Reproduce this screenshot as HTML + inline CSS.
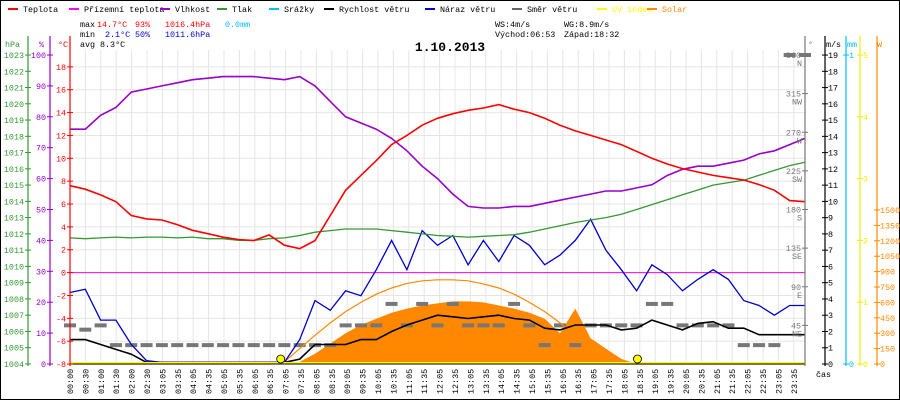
<!DOCTYPE html>
<html><head><meta charset="utf-8"><style>
html,body{margin:0;padding:0;background:#fff}
svg{display:block;font-family:"Liberation Mono","DejaVu Sans Mono",monospace}
</style></head><body>
<svg id="c" width="900" height="400" viewBox="0 0 900 400" xmlns="http://www.w3.org/2000/svg">
<rect x="0.5" y="0.5" width="899" height="399" fill="#fff" stroke="#000"/>
<g id="legend" font-size="8.4"></g>
<g font-size="8.4">
<text x="80" y="27">max</text><text x="97" y="27" fill="#f00">14.7°C</text><text x="135" y="27" fill="#f00">93%</text><text x="165" y="27" fill="#f00">1016.4hPa</text><text x="225" y="27" fill="#00bfff">0.0mm</text>
<text x="80" y="37">min</text><text x="105" y="37" fill="#00c">2.1°C</text><text x="135" y="37" fill="#00c">50%</text><text x="165" y="37" fill="#00c">1011.6hPa</text>
<text x="80" y="47">avg</text><text x="100" y="47">8.3°C</text>
<text x="495" y="27">WS:4m/s</text><text x="564" y="27">WG:8.9m/s</text>
<text x="495" y="37">Východ:06:53</text><text x="564" y="37">Západ:18:32</text>
</g>
<text x="450" y="51" font-size="13" font-weight="bold" text-anchor="middle">1.10.2013</text>
<g id="grid"></g><g id="marks"></g><g id="axes" font-size="8.4"></g>
</svg>
<script>
const hours=[0,0.5,1,1.5,2,2.5,3,3.5,4,4.5,5,5.5,6,6.5,7,7.5,8,8.5,9,9.5,10,10.5,11,11.5,12,12.5,13,13.5,14,14.5,15,15.5,16,16.5,17,17.5,18,18.5,19,19.5,20,20.5,21,21.5,22,22.5,23,23.5,24];
const temperature=[7.6,7.3,6.8,6.2,5.0,4.7,4.6,4.2,3.7,3.4,3.1,2.9,2.8,3.3,2.4,2.1,2.8,5.0,7.2,8.5,9.8,11.2,12.0,12.9,13.5,13.9,14.2,14.4,14.7,14.3,14.0,13.5,12.9,12.4,12.0,11.6,11.2,10.6,10.0,9.5,9.1,8.8,8.5,8.3,8.1,7.7,7.2,6.3,6.2];
const humidity=[76,76,80.5,83,88,89,90,91,92,92.5,93,93,93,92.5,92,93,90,85,80,78,76,73,69,64,60,55,51,50.5,50.5,51,51,52,53,54,55,56,56,57,58,61,63,64,64,65,66,68,69,71,73];
const pressure=[1011.75,1011.7,1011.75,1011.8,1011.75,1011.8,1011.8,1011.75,1011.8,1011.7,1011.7,1011.6,1011.6,1011.7,1011.75,1011.9,1012.1,1012.2,1012.3,1012.3,1012.3,1012.2,1012.1,1012.0,1011.9,1011.85,1011.8,1011.85,1011.9,1011.95,1012.1,1012.3,1012.5,1012.7,1012.85,1013.0,1013.2,1013.5,1013.8,1014.1,1014.4,1014.7,1015.0,1015.15,1015.3,1015.6,1015.9,1016.2,1016.4];
const gust=[4.4,4.6,2.7,2.7,1.2,0.2,0.1,0.1,0.1,0.1,0.1,0.1,0.1,0.1,0.1,1.5,3.9,3.3,4.5,4.2,5.8,7.6,5.8,8.2,7.3,7.9,6.1,7.6,6.3,7.9,7.3,6.1,6.7,7.6,8.9,7.0,5.8,4.5,6.1,5.5,4.5,5.2,5.8,5.2,3.9,3.6,3.0,3.6,3.6];
const speed=[1.5,1.5,1.2,0.9,0.6,0.1,0.1,0.1,0.1,0.1,0.1,0.1,0.1,0.1,0.1,0.3,1.2,1.2,1.2,1.5,1.5,2.0,2.4,2.7,3.0,2.9,2.8,2.9,3.0,2.8,2.7,2.2,2.1,2.4,2.4,2.4,2.1,2.2,2.7,2.4,2.1,2.5,2.6,2.2,2.2,1.8,1.8,1.8,1.8];
const direction=[45,40,45,22,22,22,22,22,22,22,22,22,22,22,22,22,22,22,45,45,45,70,45,70,45,70,45,45,45,70,45,22,45,22,45,45,45,45,70,70,45,45,45,45,22,22,22,360,360];
const solar=[0,0,0,0,0,0,0,0,0,0,0,0,0,0,0,20,100,200,300,380,440,500,540,570,590,610,610,600,570,540,500,440,300,540,250,150,50,0,0,0,0,0,0,0,0,0,0,0,0];
const solarMax=[0,0,0,0,0,0,0,0,0,0,0,0,0,0,20,150,280,400,510,600,680,740,785,810,820,820,810,780,740,680,600,510,400,280,150,40,0,0,0,0,0,0,0,0,0,0,0,0,0];
const timeLabels=["00:00","00:30","01:00","01:30","02:00","02:30"];
for(let h=3;h<24;h++){const s=String(h).padStart(2,'0');timeLabels.push(s+":05",s+":35");}
const sunEvents=[6.88,18.53];

const NS="http://www.w3.org/2000/svg";
function mk(p,t,a){const e=document.createElementNS(NS,t);for(const k in a)e.setAttribute(k,a[k]);p.appendChild(e);return e;}
const X0=70,X1=805,YT=55,YB=364;
const xH=h=>X0+h*(X1-X0)/24;
const yC=c=>272.6-c*11.43;
const yP=p=>YT+(1023-p)*16.26;
const yH=v=>YB-v*3.09;
const yW=v=>YB-v*16.26;
const yD=d=>YB-d*(YB-YT)/360;
const ySol=w=>YB-w*154/1500;
const yUV=u=>YB-u*(YB-YT)/5;
const grid=document.getElementById('grid'),marks=document.getElementById('marks'),axes=document.getElementById('axes');

const leg=[["Teplota","#f00"],["Přízemní teplota","#f0f"],["Vlhkost","#90c"],["Tlak","#393"],["Srážky","#00bfff"],["Rychlost větru","#000"],["Náraz větru","#00c"],["Směr větru","#666"],["UV index","#ff0"],["Solar","#f80"]];
const legX=[8,69,160,217,269,324,425,512,597,647];
const lg=document.getElementById('legend');
leg.forEach((l,i)=>{const g=mk(lg,'g',{});


mk(g,'rect',{x:legX[i],y:8,width:10,height:2,fill:l[1]});
const t=mk(g,'text',{x:legX[i]+15,y:12,fill:(i>=8?l[1]:'#000')});t.textContent=l[0];});

for(let i=0;i<timeLabels.length;i++){const x=X0+i*15.4;
const l=mk(grid,'line',{x1:x,x2:x,y1:50,y2:YB,stroke:'#e8e4e4'});


const t=mk(axes,'text',{transform:`translate(${x+3},${394}) rotate(-90)`,'font-size':8.4});


t.textContent=timeLabels[i];}
for(let c=-8;c<=18;c+=2){const l=mk(grid,'line',{x1:X0,x2:X1,y1:yC(c),y2:yC(c),stroke:'#e8e4e4'});

}
mk(grid,'line',{x1:X0,x2:X1,y1:yC(0),y2:yC(0),stroke:'#f0f'});

function pts(arr,fy){return hours.map((h,i)=>xH(h).toFixed(1)+','+fy(arr[i]).toFixed(1)).join(' ');}
const sa=mk(marks,'polygon',{points:xH(0)+','+YB+' '+pts(solar,ySol)+' '+xH(24)+','+YB,fill:'#f80'});


hours.forEach((h,i)=>{const r=mk(marks,'rect',{x:xH(h)-6,y:yD(direction[i])-2,width:12,height:4,fill:'#777'});

});
function line(arr,fy,col,w,name){const p=mk(marks,'polyline',{points:pts(arr,fy),fill:'none',stroke:col,'stroke-width':w});

}
line(solarMax,ySol,'#f80',1.2,'solar-max-line');
line(speed,yW,'#000',1.6,'wind-speed-line');
line(gust,yW,'#00c',1.3,'wind-gust-line');
line(pressure,yP,'#393',1.3,'pressure-line');
line(humidity,yH,'#90c',1.6,'humidity-line');
line(temperature,yC,'#f00',1.6,'temperature-line');
const uv=mk(marks,'line',{x1:X0,x2:X1,y1:yUV(0)-1,y2:yUV(0)-1,stroke:'#ff0','stroke-width':2});

sunEvents.forEach(h=>{const c=mk(marks,'circle',{cx:xH(h),cy:YB-5,r:4,fill:'#ff0',stroke:'#000','stroke-width':0.8});

});
mk(marks,'line',{x1:X0,x2:X1,y1:YB,y2:YB,stroke:'#000'});

function axis(x,col,vals,fy,labelFn,side,title,tx){
mk(axes,'line',{x1:x,x2:x,y1:36,y2:YB+2,stroke:col,'stroke-width':1.2});
vals.forEach(v=>{const y=fy(v);mk(axes,'line',{x1:x-3,x2:x+3,y1:y,y2:y,stroke:col});
const t=mk(axes,'text',{x:side<0?x-4:x+3,y:y+3,fill:col,'text-anchor':side<0?'end':'start'});

t.textContent=labelFn(v);});
const t=mk(axes,'text',{x:tx,y:47,fill:col});t.textContent=title;}
const r=(a,b,s)=>{const o=[];for(let v=a;v<=b;v+=s)o.push(v);return o;};
axis(28,'#393',r(1004,1023,1),yP,v=>v,-1,'hPa',5);
axis(50,'#90c',r(0,100,10),yH,v=>v,-1,'%',39);
axis(70,'#f00',r(-8,18,2),yC,v=>v,-1,'°C',58);
axis(X1,'#777',[45,90,135,180,225,270,315,360],yD,v=>v,-1,'°',808);
['NE','E','SE','S','SW','W','NW','N'].forEach((d,i)=>{const t=mk(axes,'text',{x:X1-3,y:yD((i+1)*45)+11,fill:'#777','text-anchor':'end'});t.textContent=d;});
axis(825,'#000',r(0,19,1),yW,v=>v,1,'m/s',826);
axis(846,'#00bfff',[0,1],v=>YB-v*(YB-YT),v=>v,1,'mm',847);
axis(860,'#ee0',r(0,5,1),yUV,v=>v,1,'',861);
axis(877,'#f80',r(0,1500,150),ySol,v=>v,1,'W',877);
const cs=mk(axes,'text',{x:816,y:377});cs.textContent='čas';
</script>
</body></html>
